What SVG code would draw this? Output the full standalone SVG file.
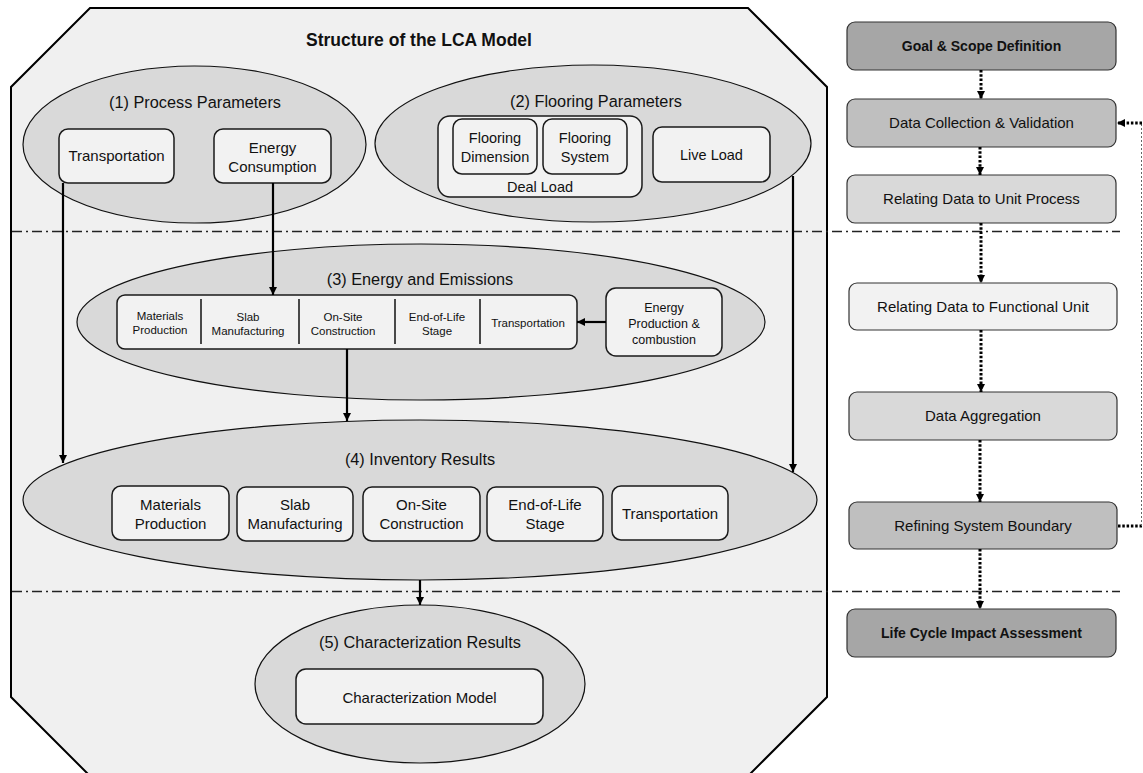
<svg xmlns="http://www.w3.org/2000/svg" width="1143" height="773" viewBox="0 0 1143 773">
<style>
text{font-family:"Liberation Sans",Arial,sans-serif;fill:#111;text-anchor:middle}
.t16{font-size:16.3px}
.t15{font-size:15px}
.t14{font-size:14.5px}
.t12{font-size:12.5px}
.t11{font-size:11.5px}
.b{font-weight:bold;font-size:14px}
.ell{fill:#d9d9d9;stroke:#111;stroke-width:1.2}
.box{fill:#f2f2f2;stroke:#1a1a1a;stroke-width:1.5}
.rb{stroke:#333;stroke-width:1.2}
.dd{fill:none;stroke:#222;stroke-width:1.3;stroke-dasharray:10 4 2 4}
.con{fill:none;stroke:#000;stroke-width:2.2}
.dot{fill:none;stroke:#000;stroke-width:3;stroke-dasharray:2.5 1.8}
</style>
<defs>
<marker id="ah" viewBox="0 0 10 10" refX="10" refY="5" markerWidth="8" markerHeight="9" markerUnits="userSpaceOnUse" orient="auto"><path d="M0,0 L10,5 L0,10 z" fill="#000"/></marker>
<marker id="ahd" viewBox="0 0 10 10" refX="10" refY="5" markerWidth="8" markerHeight="9" markerUnits="userSpaceOnUse" orient="auto"><path d="M0,0 L10,5 L0,10 z" fill="#000"/></marker>
</defs>
<rect width="1143" height="773" fill="#fff"/>
<g id="lca-frame">
<path d="M90,8 L748,8 L827,87 L827,697 L746,778 L92,778 L11,697 L11,87 Z" fill="#f0f0f0" stroke="#000" stroke-width="2"/>
<text x="419" y="46" style="font-weight:bold;font-size:17.5px">Structure of the LCA Model</text>
</g>
<g id="separators">
<line class="dd" x1="12" y1="231.5" x2="1120" y2="231.5"/>
<line class="dd" x1="12" y1="591.5" x2="1120" y2="591.5"/>
</g>
<g id="process-parameters">
<ellipse class="ell" cx="194.5" cy="144.5" rx="171.5" ry="78.5"/>
<text class="t16" x="195" y="108">(1) Process Parameters</text>
<rect class="box" x="59" y="129" width="115" height="54" rx="9"/>
<text class="t15" x="116.5" y="161">Transportation</text>
<rect class="box" x="214" y="129" width="117" height="54" rx="9"/>
<text class="t15" x="272.5" y="153">Energy</text>
<text class="t15" x="272.5" y="172">Consumption</text>
</g>
<g id="flooring-parameters">
<ellipse class="ell" cx="593" cy="143.5" rx="218" ry="78.5"/>
<text class="t16" x="596" y="107">(2) Flooring Parameters</text>
<rect class="box" x="438" y="116" width="204" height="81" rx="12"/>
<rect class="box" x="453" y="119" width="84" height="55" rx="9"/>
<text class="t14" x="495" y="143">Flooring</text>
<text class="t14" x="495" y="162">Dimension</text>
<rect class="box" x="543" y="119" width="84" height="55" rx="9"/>
<text class="t14" x="585" y="143">Flooring</text>
<text class="t14" x="585" y="162">System</text>
<text class="t14" x="540" y="192">Deal Load</text>
<rect class="box" x="653" y="127" width="117" height="55" rx="9"/>
<text class="t14" x="711.5" y="160">Live Load</text>
</g>
<g id="energy-emissions">
<ellipse class="ell" cx="421" cy="322" rx="344" ry="78"/>
<text class="t16" x="420" y="285">(3) Energy and Emissions</text>
<rect class="box" x="117" y="295" width="460" height="54" rx="8"/>
<g stroke="#111" stroke-width="1.5">
<line x1="201" y1="299" x2="201" y2="344"/>
<line x1="299" y1="299" x2="299" y2="344"/>
<line x1="395" y1="299" x2="395" y2="344"/>
<line x1="480" y1="299" x2="480" y2="344"/>
</g>
<text class="t11" x="160" y="320">Materials</text>
<text class="t11" x="160" y="334">Production</text>
<text class="t11" x="248" y="321">Slab</text>
<text class="t11" x="248" y="335">Manufacturing</text>
<text class="t11" x="343" y="321">On-Site</text>
<text class="t11" x="343" y="335">Construction</text>
<text class="t11" x="437" y="321">End-of-Life</text>
<text class="t11" x="437" y="335">Stage</text>
<text class="t11" x="528" y="327">Transportation</text>
<rect class="box" x="606" y="288" width="116" height="68" rx="10"/>
<text class="t12" x="664" y="311.5">Energy</text>
<text class="t12" x="664" y="327.5">Production &amp;</text>
<text class="t12" x="664" y="343.5">combustion</text>
</g>
<g id="inventory-results">
<ellipse class="ell" cx="420" cy="500" rx="397" ry="80"/>
<text class="t16" x="420" y="465">(4) Inventory Results</text>
<rect class="box" x="112" y="486" width="117" height="54" rx="9"/>
<text class="t15" x="170.5" y="510">Materials</text>
<text class="t15" x="170.5" y="529">Production</text>
<rect class="box" x="237" y="487" width="116" height="54" rx="9"/>
<text class="t15" x="295" y="510">Slab</text>
<text class="t15" x="295" y="529">Manufacturing</text>
<rect class="box" x="363" y="487" width="117" height="54" rx="9"/>
<text class="t15" x="421.5" y="510">On-Site</text>
<text class="t15" x="421.5" y="529">Construction</text>
<rect class="box" x="487" y="487" width="116" height="54" rx="9"/>
<text class="t15" x="545" y="510">End-of-Life</text>
<text class="t15" x="545" y="529">Stage</text>
<rect class="box" x="612" y="486" width="116" height="54" rx="9"/>
<text class="t15" x="670" y="519">Transportation</text>
</g>
<g id="characterization-results">
<ellipse class="ell" cx="420" cy="684" rx="165" ry="79"/>
<text class="t16" x="420" y="648">(5) Characterization Results</text>
<rect class="box" x="296" y="669" width="247" height="55" rx="10"/>
<text class="t15" x="419.5" y="703">Characterization Model</text>
</g>
<g id="goal-scope"><rect class="rb" x="847" y="22" width="269" height="48" rx="8" fill="#a6a6a6"/><text class="b" x="981.5" y="51">Goal &amp; Scope Definition</text></g>
<g id="data-collection"><rect class="rb" x="847" y="99" width="269" height="48" rx="8" fill="#bfbfbf"/><text class="t15" x="981.5" y="128">Data Collection &amp; Validation</text></g>
<g id="unit-process"><rect class="rb" x="847" y="175" width="269" height="48" rx="8" fill="#d9d9d9"/><text class="t15" x="981.5" y="204">Relating Data to Unit Process</text></g>
<g id="functional-unit"><rect class="rb" x="849" y="283" width="268" height="47" rx="8" fill="#f2f2f2"/><text class="t15" x="983" y="312">Relating Data to Functional Unit</text></g>
<g id="data-aggregation"><rect class="rb" x="849" y="392" width="268" height="48" rx="8" fill="#d9d9d9"/><text class="t15" x="983" y="421">Data Aggregation</text></g>
<g id="refining-boundary"><rect class="rb" x="849" y="502" width="268" height="47" rx="8" fill="#bfbfbf"/><text class="t15" x="983" y="531">Refining System Boundary</text></g>
<g id="lcia"><rect class="rb" x="847" y="609" width="269" height="48" rx="8" fill="#a6a6a6"/><text class="b" x="981.5" y="638">Life Cycle Impact Assessment</text></g>
<g id="connectors">
<line class="con" x1="63" y1="183" x2="63" y2="463" marker-end="url(#ah)"/>
<line class="con" x1="273" y1="183" x2="273" y2="295" marker-end="url(#ah)"/>
<line class="con" x1="793" y1="176" x2="793" y2="472" marker-end="url(#ah)"/>
<line class="con" x1="606" y1="322" x2="577" y2="322" marker-end="url(#ah)"/>
<line class="con" x1="347" y1="349" x2="347" y2="421" marker-end="url(#ah)"/>
<line class="con" x1="420" y1="580" x2="420" y2="605" marker-end="url(#ah)"/>
<line class="dot" x1="981" y1="70" x2="981" y2="99" marker-end="url(#ahd)"/>
<line class="dot" x1="980" y1="147" x2="980" y2="175" marker-end="url(#ahd)"/>
<line class="dot" x1="981" y1="223" x2="981" y2="283" marker-end="url(#ahd)"/>
<line class="dot" x1="981" y1="330" x2="981" y2="392" marker-end="url(#ahd)"/>
<line class="dot" x1="980" y1="440" x2="980" y2="502" marker-end="url(#ahd)"/>
<line class="dot" x1="980" y1="549" x2="980" y2="609" marker-end="url(#ahd)"/>
<line class="dot" x1="1118" y1="526" x2="1142" y2="526"/>
<line x1="1141.5" y1="526" x2="1141.5" y2="123" stroke="#666" stroke-width="1" stroke-dasharray="2 2"/>
<line class="dot" x1="1142" y1="123" x2="1117" y2="123" marker-end="url(#ahd)"/>
</g>
</svg>
